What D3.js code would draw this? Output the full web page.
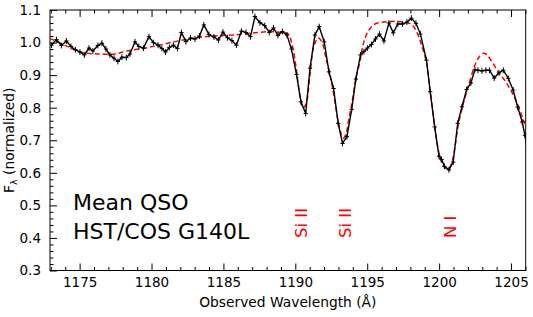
<!DOCTYPE html>
<html>
<head>
<meta charset="utf-8">
<script src="https://cdn.jsdelivr.net/npm/d3@7"></script>
<style>
  body { margin: 0; background: #fff; }
  text { font-family: "DejaVu Sans", sans-serif; }
</style>
</head>
<body>
<div id="chart"></div>
<script>
// observed spectrum (mean QSO, normalized)
const wave = [1173.04,1173.39,1173.73,1174.08,1174.40,1174.71,1175.02,1175.33,1175.65,1175.92,
  1176.27,1176.55,1176.83,1177.11,1177.39,1177.66,1177.94,1178.25,1178.50,1178.85,
  1179.12,1179.44,1179.82,1180.13,1180.45,1180.72,1180.97,1181.24,1181.52,1181.80,
  1182.08,1182.39,1182.71,1183.02,1183.33,1183.64,1183.99,1184.34,1184.65,1184.97,
  1185.28,1185.59,1185.90,1186.25,1186.57,1186.88,1187.19,1187.54,1187.87,1188.19,
  1188.48,1188.79,1189.10,1189.42,1189.73,1190.08,1190.39,1190.72,1191.02,1191.36,
  1191.66,1192.01,1192.34,1192.66,1192.98,1193.28,1193.59,1193.92,1194.21,1194.53,
  1194.77,1195.01,1195.29,1195.57,1195.85,1196.16,1196.51,1196.81,1197.13,1197.46,
  1197.76,1198.07,1198.39,1198.70,1199.12,1199.38,1199.69,1199.99,1200.17,1200.37,
  1200.68,1200.98,1201.29,1201.59,1201.91,1202.21,1202.49,1202.70,1202.98,1203.25,
  1203.50,1203.83,1204.16,1204.46,1204.81,1205.15,1205.46,1205.78,1205.97,1206.25];
const flux = [0.992,1.009,0.991,1.005,0.988,0.978,0.971,0.962,0.983,0.974,
  0.991,0.998,0.980,0.962,0.952,0.942,0.955,0.954,0.965,1.002,
  0.988,0.983,1.018,1.000,0.992,0.982,0.971,0.985,0.992,0.982,
  1.031,1.003,1.014,1.011,1.020,1.054,1.025,1.017,1.008,1.032,
  1.015,1.006,0.992,1.035,1.031,1.018,1.080,1.061,1.052,1.031,
  1.045,1.022,1.034,1.023,0.980,0.902,0.818,0.782,0.921,1.023,
  1.049,1.002,0.910,0.859,0.752,0.690,0.711,0.795,0.888,0.962,
  0.972,0.983,0.994,1.011,1.026,1.005,1.060,1.030,1.057,1.057,
  1.063,1.075,1.059,1.026,0.946,0.849,0.741,0.651,0.641,0.620,
  0.609,0.633,0.752,0.803,0.856,0.876,0.917,0.915,0.913,0.915,
  0.915,0.891,0.907,0.915,0.890,0.854,0.802,0.756,0.715,0.640];

// model fit (red dashed)
const modelWave = [1172.93,1174.10,1175.11,1176.27,1177.45,1178.24,1179.89,1181.97,1183.71,1185.66,
  1188.00,1189.14,1189.51,1189.81,1190.08,1190.32,1190.55,1190.74,1191.02,1191.29,
  1191.59,1191.85,1192.13,1192.41,1192.68,1192.96,1193.17,1193.33,1193.51,1193.73,
  1193.97,1194.21,1194.49,1194.72,1195.07,1195.54,1196.37,1197.13,1197.74,1198.04,
  1198.32,1198.56,1198.78,1199.13,1199.36,1199.64,1199.88,1200.12,1200.37,1200.59,
  1200.82,1201.06,1201.33,1201.65,1202.02,1202.49,1202.77,1203.07,1203.32,1203.53,
  1204.11,1204.58,1205.04,1205.48,1205.78,1206.02];
const modelFlux = [1.013,0.989,0.970,0.965,0.965,0.974,0.986,1.006,1.018,1.023,
  1.033,1.031,1.026,0.987,0.915,0.838,0.800,0.811,0.900,0.989,
  1.014,1.002,0.952,0.900,0.838,0.762,0.722,0.706,0.718,0.768,
  0.823,0.891,0.940,0.995,1.035,1.057,1.064,1.065,1.061,1.057,
  1.043,1.020,0.992,0.936,0.860,0.762,0.685,0.638,0.617,0.612,
  0.623,0.669,0.746,0.808,0.864,0.931,0.955,0.967,0.963,0.951,
  0.910,0.883,0.849,0.808,0.772,0.746];

const xMajor = [1175, 1180, 1185, 1190, 1195, 1200, 1205];
const yMajor = [0.3, 0.4, 0.5, 0.6, 0.7, 0.8, 0.9, 1.0, 1.1];
const lineNames = ["Si II", "Si II", "N I"];
const lineWave = [1190.42, 1193.45, 1200.75];
const errHalf = 0.009;   // half height of error bar
const binHalf = 0.15;    // half width of bin marker

const width = 533, height = 317;
const margin = {left: 50, right: 7.3, top: 10, bottom: 46.5};
const innerWidth = width - margin.left - margin.right;
const innerHeight = height - margin.top - margin.bottom;

const svg = d3.select('#chart').append('svg')
    .attr('width', width)
    .attr('height', height);

const g = svg.append('g')
    .attr('transform', `translate(${margin.left},${margin.top})`);

const xScale = d3.scaleLinear().domain([1172.94, 1206.02]).range([0, innerWidth]);
const yScale = d3.scaleLinear().domain([0.3, 1.1]).range([innerHeight, 0]);

svg.append('defs').append('clipPath').attr('id', 'clip')
  .append('rect').attr('width', innerWidth).attr('height', innerHeight);

// axes
const xMinor = d3.range(1173, 1207, 1).filter(v => v % 5 !== 0);
const yMinor = d3.range(30, 111, 2).filter(v => v % 10 !== 0).map(v => v / 100);

function styleAxis(sel) {
  sel.select('.domain').remove();
  sel.selectAll('line').attr('stroke', '#000').attr('stroke-width', 1);
  sel.selectAll('text').attr('font-size', 13.5).attr('fill', '#000')
     .attr('font-family', '"DejaVu Sans", sans-serif');
}
// tick marks only, no labels
function ticksOnly(sel) {
  styleAxis(sel);
  sel.selectAll('text').remove();
}

g.append('g').attr('transform', `translate(0,${innerHeight})`)
  .call(d3.axisBottom(xScale).tickValues(xMajor).tickSize(-7).tickPadding(7).tickFormat(d3.format('d')))
  .call(styleAxis);
g.append('g').attr('transform', `translate(0,${innerHeight})`)
  .call(d3.axisBottom(xScale).tickValues(xMinor).tickSize(-3.5))
  .call(ticksOnly);
g.append('g')
  .call(d3.axisTop(xScale).tickValues(xMajor).tickSize(-7))
  .call(ticksOnly);
g.append('g')
  .call(d3.axisTop(xScale).tickValues(xMinor).tickSize(-3.5))
  .call(ticksOnly);
g.append('g')
  .call(d3.axisLeft(yScale).tickValues(yMajor).tickSize(-7).tickPadding(9).tickFormat(d3.format('.1f')))
  .call(styleAxis);
g.append('g')
  .call(d3.axisLeft(yScale).tickValues(yMinor).tickSize(-3.5))
  .call(ticksOnly);

g.append('rect')
  .attr('width', innerWidth).attr('height', innerHeight)
  .attr('fill', 'none').attr('stroke', '#000').attr('stroke-width', 1);

const plot = g.append('g').attr('clip-path', 'url(#clip)');

// model
const model = d3.zip(modelWave, modelFlux);
const modelLine = d3.line()
  .x(d => xScale(d[0]))
  .y(d => yScale(d[1]))
  .curve(d3.curveCatmullRom);
plot.append('path')
  .attr('d', modelLine(model))
  .attr('fill', 'none')
  .attr('stroke', '#ff0000')
  .attr('stroke-width', 1.5)
  .attr('stroke-dasharray', '5,3');

// spectrum
const spec = d3.zip(wave, flux);
const specLine = d3.line().x(d => xScale(d[0])).y(d => yScale(d[1]));
plot.append('path')
  .attr('d', specLine(spec))
  .attr('fill', 'none')
  .attr('stroke', '#000')
  .attr('stroke-width', 1.4);

const marks = plot.selectAll('.pt').data(spec).enter().append('g').attr('class', 'pt');
marks.append('line')
  .attr('x1', d => xScale(d[0])).attr('x2', d => xScale(d[0]))
  .attr('y1', d => yScale(d[1] - errHalf)).attr('y2', d => yScale(d[1] + errHalf))
  .attr('stroke', '#000').attr('stroke-width', 1);
marks.append('line')
  .attr('x1', d => xScale(d[0] - binHalf)).attr('x2', d => xScale(d[0] + binHalf))
  .attr('y1', d => yScale(d[1])).attr('y2', d => yScale(d[1]))
  .attr('stroke', '#000').attr('stroke-width', 1);

// line ids
g.selectAll('.ion').data(lineNames).enter().append('text')
  .attr('class', 'ion')
  .attr('transform', (d, i) => `translate(${xScale(lineWave[i])},228) rotate(-90)`)
  .attr('dy', '0.36em')
  .attr('text-anchor', 'start')
  .attr('font-size', 16.5)
  .attr('fill', '#ff0000')
  .text(d => d);

// annotation
const note = g.append('text')
  .attr('x', 23).attr('font-size', 22).attr('fill', '#000');
note.append('tspan').attr('x', 23).attr('y', 200).text('Mean QSO');
note.append('tspan').attr('x', 23).attr('y', 228.5).text('HST/COS G140L');

// axis titles
svg.append('text')
  .attr('x', margin.left + innerWidth / 2).attr('y', 307)
  .attr('text-anchor', 'middle').attr('font-size', 13.8)
  .text('Observed Wavelength (Å)');

const yl = svg.append('text')
  .attr('transform', `translate(14,${margin.top + innerHeight / 2}) rotate(-90)`)
  .attr('text-anchor', 'middle').attr('font-size', 13.8);
yl.append('tspan').text('F');
yl.append('tspan').attr('font-size', 9.5).attr('dy', 3).text('λ');
yl.append('tspan').attr('dy', -3).text(' (normalized)');
</script>
</body>
</html>
